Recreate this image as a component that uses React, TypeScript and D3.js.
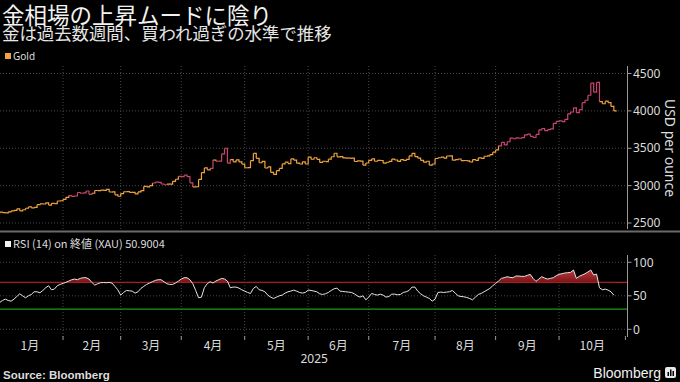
import React from "react";
import * as d3 from "d3";

const W = 680;
const H = 382;

// Gold spot (USD/oz), one value per weekday, Jan 1 – Oct 28, 2025
const goldJan = [2625, 2645, 2640, 2636, 2649, 2662, 2670, 2690, 2663, 2677, 2697, 2715, 2703, 2708, 2745, 2755, 2754, 2770, 2740, 2763, 2760, 2794, 2798];
const goldFeb = [2815, 2843, 2866, 2856, 2861, 2908, 2898, 2904, 2928, 2883, 2898, 2935, 2933, 2940, 2936, 2951, 2915, 2916, 2877, 2858];
const goldMar = [2893, 2918, 2920, 2911, 2910, 2889, 2916, 2934, 2989, 2984, 3000, 3035, 3048, 3044, 3022, 3012, 3020, 3019, 3057, 3085, 3124];
const goldApr = [3120, 3140, 3120, 3037, 2982, 2985, 3083, 3175, 3237, 3211, 3230, 3343, 3327, 3327, 3424, 3500, 3300, 3349, 3319, 3344, 3317, 3288];
const goldMay = [3239, 3240, 3334, 3431, 3365, 3306, 3325, 3236, 3250, 3178, 3150, 3200, 3230, 3290, 3314, 3295, 3357, 3342, 3300, 3289, 3318, 3289];
const goldJun = [3381, 3353, 3373, 3352, 3310, 3326, 3322, 3354, 3386, 3433, 3385, 3388, 3370, 3369, 3368, 3369, 3323, 3332, 3328, 3274, 3303];
const goldJul = [3338, 3357, 3326, 3337, 3336, 3301, 3313, 3324, 3355, 3343, 3324, 3347, 3339, 3350, 3397, 3432, 3387, 3368, 3337, 3314, 3326, 3275, 3289];
const goldAug = [3363, 3373, 3380, 3369, 3396, 3398, 3341, 3348, 3356, 3335, 3336, 3332, 3316, 3348, 3339, 3372, 3365, 3393, 3397, 3416, 3448];
const goldSep = [3477, 3533, 3578, 3545, 3587, 3636, 3627, 3640, 3634, 3643, 3679, 3690, 3660, 3644, 3685, 3746, 3764, 3735, 3749, 3760, 3833, 3859];
const goldOct = [3866, 3857, 3887, 3961, 3985, 4041, 3976, 4018, 4110, 4142, 4209, 4370, 4250, 4380, 4125, 4095, 4130, 4110, 4060, 4000];

// RSI (14), same days
const rsiJan = [39, 40, 43, 45, 43, 42, 45, 49, 53, 50, 47, 50, 52, 56, 56, 54.5, 58, 62, 65, 59, 60, 65, 67];
const rsiFeb = [68.5, 70, 72, 74, 75, 74, 76, 77, 77, 75, 70, 66, 68, 69.5, 69.8, 69.5, 69.9, 69, 64, 59];
const rsiMar = [51, 55, 58, 57.5, 57, 54, 56, 61, 64, 67, 69, 71, 73, 74, 74, 71, 68, 67, 67, 69, 72];
const rsiApr = [75, 77, 77, 74, 68, 58, 47, 48, 62, 68, 71, 69, 72, 74, 76, 75, 72, 62, 63, 63, 61.5, 59];
const rsiMay = [57, 55, 53.5, 61, 64, 59, 58, 56, 51, 48, 46, 48, 50, 51, 54, 56, 57, 58.5, 57, 55, 54, 55];
const rsiJun = [58.5, 58, 57, 56, 53, 52, 53, 55, 58, 60.5, 61.5, 57, 56.5, 56, 55.5, 55, 53, 50, 48, 50, 44];
const rsiJul = [48, 53.5, 52, 51, 52.5, 51, 48, 49, 52.5, 52.5, 51.5, 52, 55, 56, 58, 63, 63, 57, 53, 50, 48, 46, 42];
const rsiAug = [45, 55, 55.5, 55, 55.5, 56, 58, 54, 50, 49, 48.5, 47.5, 46, 44, 48, 52, 53.5, 56, 58.5, 61, 65];
const rsiSep = [68.5, 72, 76, 77, 78.5, 77.5, 77, 79.5, 79.5, 79, 79, 80.5, 82, 76, 71.5, 75, 78.5, 76.5, 75, 76, 77, 80];
const rsiOct = [82, 83, 84, 84.5, 85, 88.5, 76, 79, 81, 83, 85.5, 88.5, 81, 82.5, 62, 59, 60, 58.5, 56, 50.9];

const gold = [...goldJan, ...goldFeb, ...goldMar, ...goldApr, ...goldMay, ...goldJun, ...goldJul, ...goldAug, ...goldSep, ...goldOct];
const rsi = [...rsiJan, ...rsiFeb, ...rsiMar, ...rsiApr, ...rsiMay, ...rsiJun, ...rsiJul, ...rsiAug, ...rsiSep, ...rsiOct];

const priceTicks = [2500, 3000, 3500, 4000, 4500];
const rsiTicks = [0, 50, 100];
const rsiHigh = 70;
const rsiLow = 30;
const monthLabels = ["1月", "2月", "3月", "4月", "5月", "6月", "7月", "8月", "9月", "10月"];
const yearLabel = "2025";
const title = "金相場の上昇ムードに陰り";
const subtitle = "金は過去数週間、買われ過ぎの水準で推移";
const goldLegend = "Gold";
const rsiLegend = "RSI (14)  on 終値 (XAU) 50.9004";
const yTitle = "USD per ounce";
const source = "Source: Bloomberg";

// weekday calendar (index 1 = Jan 1, 2025)
const weekdays = d3.timeDay
  .range(new Date(2025, 0, 1), new Date(2025, 10, 4))
  .filter((d) => d.getDay() !== 0 && d.getDay() !== 6);
const idxOf = (i: number) => i + 1;
const monthStarts: number[] = [];
weekdays.forEach((d, i) => {
  if (i === 0 || d.getMonth() !== weekdays[i - 1].getMonth()) monthStarts.push(idxOf(i));
});

const ORANGE = "#f0a23e";
const PINK = "#c8466e";
const GRID = "#474747";
const TXT = "#dcdcdc";
const LATIN = "'Noto Sans', 'DejaVu Sans', sans-serif";
const CJK = "'Noto Sans CJK JP', 'Noto Sans', sans-serif";

export default function App() {
  const plotRight = 627.5;
  const x = d3.scaleLinear().domain([0, monthStarts[monthStarts.length - 1]]).range([-6.2, 625.4]);
  const y = d3.scaleLinear().domain([2500, 4500]).range([223, 73.5]);
  const ry = d3.scaleLinear().domain([0, 100]).range([329.3, 262.3]);

  const mainTop = 66;
  const mainBottom = 230;
  const rsiTop = 255;
  const rsiBottom = 337;

  const step = d3
    .line<[number, number]>()
    .x((d) => x(d[0]))
    .y((d) => y(d[1]))
    .curve(d3.curveStepAfter);

  const segs = gold.map((v, k) => {
    const s = idxOf(k);
    const next = k < gold.length - 1 ? gold[k + 1] : v;
    return {
      d: step([
        [s, v],
        [s + 1, next],
      ]) as string,
      color: rsi[k] > rsiHigh ? PINK : ORANGE,
    };
  });

  const rsiPts: [number, number][] = rsi.map((v, k) => [idxOf(k), v]);
  const rsiLine = d3
    .line<[number, number]>()
    .x((d) => x(d[0]))
    .y((d) => ry(d[1]))(rsiPts) as string;
  const rsiArea = d3
    .area<[number, number]>()
    .x((d) => x(d[0]))
    .y0(ry(rsiHigh))
    .y1((d) => ry(d[1]))(rsiPts) as string;

  const gridMonths = monthStarts.slice(1, monthStarts.length - 1);

  return (
    <svg width={W} height={H} style={{ display: "block", position: "absolute", left: 0, top: 0, background: "#000" }}>
      <defs>
        <clipPath id="plotClip">
          <rect x={0} y={0} width={plotRight} height={H} />
        </clipPath>
        <clipPath id="obClip">
          <rect x={0} y={0} width={plotRight} height={ry(rsiHigh)} />
        </clipPath>
        <linearGradient id="obGrad" x1="0" y1={ry(90)} x2="0" y2={ry(rsiHigh)} gradientUnits="userSpaceOnUse">
          <stop offset="0" stopColor="#c43a3c" />
          <stop offset="1" stopColor="#7a1418" />
        </linearGradient>
      </defs>
      <rect x={0} y={0} width={W} height={H} fill="#000" />

      <text x={2} y={24} fill="#f2f2f2" fontFamily={CJK} fontSize={22.5}>{title}</text>
      <text x={2} y={40} fill="#e6e6e6" fontFamily={CJK} fontSize={17.4}>{subtitle}</text>

      <rect x={5} y={53} width={6} height={6} fill={ORANGE} />
      <text x={13} y={60} fill={TXT} fontFamily={LATIN} fontSize={10}>{goldLegend}</text>

      {/* main panel grid */}
      {priceTicks.map((t) => (
        <line key={"pg" + t} x1={0} x2={plotRight} y1={y(t)} y2={y(t)} stroke={GRID} strokeDasharray="1,2" />
      ))}
      {gridMonths.map((s) => (
        <line key={"vg" + s} x1={x(s)} x2={x(s)} y1={mainTop} y2={mainBottom} stroke={GRID} strokeDasharray="1,2" />
      ))}

      <g clipPath="url(#plotClip)">
        {segs.map((sg, i) => (
          <path key={i} d={sg.d} fill="none" stroke={sg.color} strokeWidth={1.2} />
        ))}
      </g>

      {/* main right axis */}
      <line x1={plotRight} x2={plotRight} y1={mainTop} y2={mainBottom - 1} stroke="#9a9a9a" />
      {priceTicks.map((t) => (
        <g key={"pt" + t}>
          <line x1={plotRight} x2={plotRight + 4} y1={y(t)} y2={y(t)} stroke="#9a9a9a" />
          <text x={633} y={y(t)} dy="0.35em" fill={TXT} fontFamily={LATIN} fontSize={12}>{t}</text>
        </g>
      ))}
      <text
        transform={`translate(665, ${(mainTop + mainBottom) / 2}) rotate(90)`}
        textAnchor="middle"
        fill={TXT}
        fontFamily={LATIN}
        fontSize={14}
      >
        {yTitle}
      </text>

      {/* separator */}
      <rect x={0} y={230.5} width={W} height={2} fill="#6a6a6a" />

      {/* RSI panel */}
      <rect x={5} y={241} width={6} height={6} fill="#f2f2f2" />
      <text x={13} y={248} fill={TXT} fontFamily={CJK} fontSize={11}>{rsiLegend}</text>

      {rsiTicks.map((t) => (
        <line key={"rg" + t} x1={0} x2={plotRight} y1={ry(t)} y2={ry(t)} stroke={GRID} strokeDasharray="1,2" />
      ))}
      {gridMonths.map((s) => (
        <line key={"rvg" + s} x1={x(s)} x2={x(s)} y1={rsiTop} y2={rsiBottom} stroke={GRID} strokeDasharray="1,2" />
      ))}
      <line x1={0} x2={plotRight} y1={ry(rsiHigh)} y2={ry(rsiHigh)} stroke="#b3201f" strokeWidth={1.2} />
      <line x1={0} x2={plotRight} y1={ry(rsiLow)} y2={ry(rsiLow)} stroke="#1f9a1f" strokeWidth={1.2} />

      <g clipPath="url(#plotClip)">
        <g clipPath="url(#obClip)">
          <path d={rsiArea} fill="url(#obGrad)" />
        </g>
        <path d={rsiLine} fill="none" stroke="#e4e4e4" strokeWidth={1} />
      </g>

      <line x1={plotRight} x2={plotRight} y1={rsiTop} y2={rsiBottom} stroke="#9a9a9a" />
      {rsiTicks.map((t) => (
        <g key={"rt" + t}>
          <line x1={plotRight} x2={plotRight + 4} y1={ry(t)} y2={ry(t)} stroke="#9a9a9a" />
          <text x={633} y={ry(t)} dy="0.35em" fill={TXT} fontFamily={LATIN} fontSize={12}>{t}</text>
        </g>
      ))}

      {/* time axis */}
      {monthStarts.slice(1).map((s) => (
        <line key={"mt" + s} x1={Math.min(x(s), plotRight)} x2={Math.min(x(s), plotRight)} y1={rsiBottom - 1} y2={rsiBottom + 3} stroke="#9a9a9a" />
      ))}
      {monthLabels.map((m, i) => (
        <text
          key={m}
          x={(x(monthStarts[i]) + x(monthStarts[i + 1])) / 2}
          y={350}
          textAnchor="middle"
          fill={TXT}
          fontFamily={CJK}
          fontSize={12}
        >
          {m}
        </text>
      ))}
      <text x={x(monthStarts[5]) + 6} y={363} textAnchor="middle" fill={TXT} fontFamily={LATIN} fontSize={12}>
        {yearLabel}
      </text>

      <text x={3} y={379} fill={TXT} fontFamily="'Liberation Sans', Arial, sans-serif" fontWeight="bold" fontSize={11.5}>
        {source}
      </text>
      <text x={661} y={378} textAnchor="end" fill="#f2f2f2" fontFamily="'Liberation Sans', Arial, sans-serif" fontSize={14}>
        Bloomberg
      </text>
      <g>
        <rect x={665} y={367} width={11} height={11} rx={2} fill="#e8e8e8" />
        <rect x={667.5} y={372} width={1.5} height={4} fill="#000" />
        <rect x={670} y={369.5} width={1.5} height={6.5} fill="#000" />
        <rect x={672.5} y={371} width={1.5} height={5} fill="#000" />
      </g>
    </svg>
  );
}
